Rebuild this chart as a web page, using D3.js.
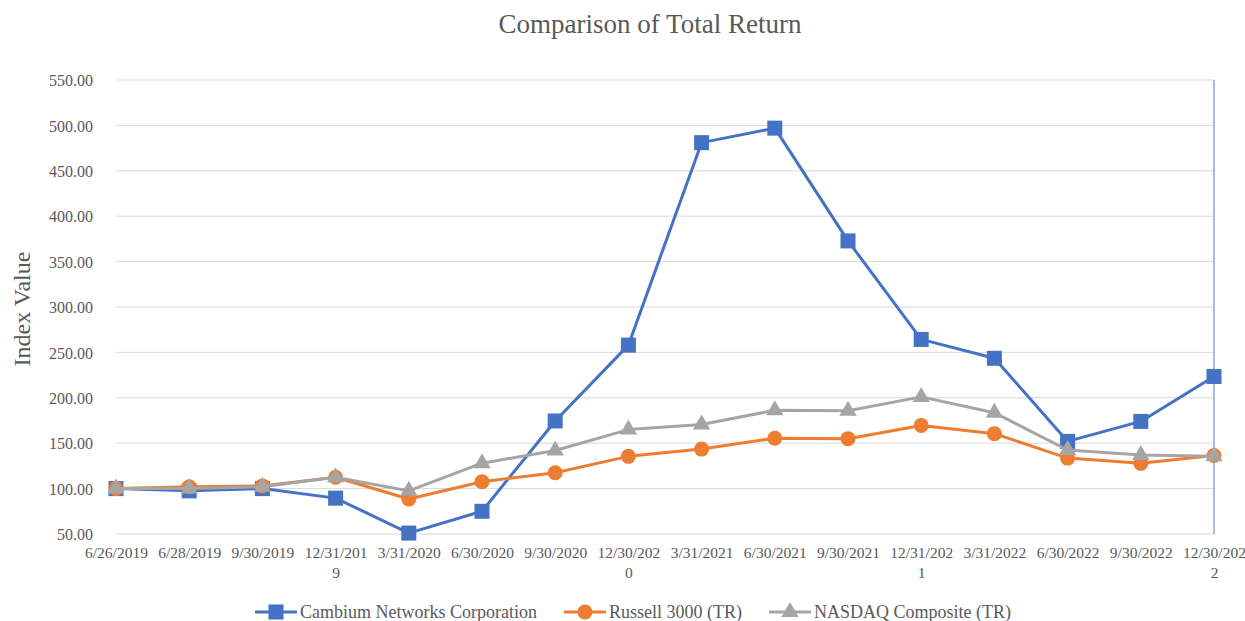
<!DOCTYPE html>
<html>
<head>
<meta charset="utf-8">
<script src="https://cdn.jsdelivr.net/npm/d3@7"></script>
<style>
  body { margin: 0; background: #fff; }
  text { font-family: "Liberation Serif", "Times New Roman", serif; fill: #595959; }
</style>
</head>
<body>
<div id="chart"></div>
<script>
const dates = ["6/26/2019", "6/28/2019", "9/30/2019", "12/31/2019", "3/31/2020", "6/30/2020", "9/30/2020",
    "12/30/2020", "3/31/2021", "6/30/2021", "9/30/2021", "12/31/2021", "3/31/2022", "6/30/2022", "9/30/2022", "12/30/2022"];

const cambium = [100, 97.5, 100, 89.5, 51, 75, 174.5, 258, 481, 497, 372.8, 264.3, 243.5, 152, 174, 223.5];
const russell = [100, 102, 103, 112.5, 88.5, 107.5, 117.5, 135.5, 143.5, 155.5, 155, 169.6, 160.5, 133.6, 127.8, 136.5];
const nasdaq = [100, 100, 102, 112.5, 97.5, 128, 142, 165, 170.5, 186.3, 185.7, 201, 183.5, 142.5, 137, 135.5];

const yTicks = [50, 100, 150, 200, 250, 300, 350, 400, 450, 500, 550];

const seriesNames = ["Cambium Networks Corporation", "Russell 3000 (TR)", "NASDAQ Composite (TR)"];
const seriesColors = ["#4472C4", "#ED7D31", "#A5A5A5"];
const seriesShapes = ["square", "circle", "triangle"];

const W = 1245, H = 621;
const margin = {top: 80, right: 31, bottom: 87, left: 116};
const width = W - margin.left - margin.right;
const height = H - margin.top - margin.bottom;

const svg = d3.select("#chart")
    .append("svg")
    .attr("width", W)
    .attr("height", H);

const g = svg.append("g")
    .attr("transform", `translate(${margin.left},${margin.top})`);

const x = d3.scalePoint().domain(dates).range([0, width]);
const y = d3.scaleLinear().domain([50, 550]).range([height, 0]);

// gridlines
g.append("g")
    .selectAll("line")
    .data(yTicks)
    .enter().append("line")
    .attr("x1", 0)
    .attr("x2", width)
    .attr("y1", d => y(d))
    .attr("y2", d => y(d))
    .style("stroke", "#D9D9D9")
    .style("stroke-width", 1);

// y axis labels
const yAxis = g.append("g")
    .call(d3.axisLeft(y).tickValues(yTicks).tickFormat(d3.format(".2f")).tickSize(0).tickPadding(23));
yAxis.select(".domain").remove();
yAxis.selectAll("text")
    .attr("dy", "0.35em")
    .style("font-size", "16px")
    .style("font-family", "'Liberation Serif', serif")
    .style("fill", "#595959");

// x axis labels (wrapped like the source)
const xAxis = g.append("g")
    .attr("transform", `translate(0,${height})`)
    .call(d3.axisBottom(x).tickSize(0).tickFormat(""));
xAxis.select(".domain").remove();
xAxis.selectAll(".tick").each(function (d) {
    const lines = d.length > 9 ? [d.slice(0, 9), d.slice(9)] : [d];
    const t = d3.select(this).append("text")
        .attr("text-anchor", "middle")
        .style("font-size", "15.5px");
    lines.forEach((l, i) => {
        t.append("tspan").attr("x", 0).attr("y", 24 + i * 20).text(l);
    });
});

// right vertical line
g.append("line")
    .attr("x1", width)
    .attr("x2", width)
    .attr("y1", y(550))
    .attr("y2", y(50))
    .style("stroke", "#8EA9DB")
    .style("stroke-width", 1.5);

const line = d3.line()
    .x((d, i) => x(dates[i]))
    .y(d => y(d));

function drawMarker(sel, shape, color) {
    if (shape === "square") {
        sel.append("rect")
            .attr("x", -7.5).attr("y", -7.5)
            .attr("width", 15).attr("height", 15)
            .style("fill", color);
    } else if (shape === "circle") {
        sel.append("circle")
            .attr("r", 7.5)
            .style("fill", color);
    } else {
        sel.append("path")
            .attr("d", d3.symbol().type(d3.symbolTriangle).size(130)())
            .style("fill", color);
    }
}

[cambium, russell, nasdaq].forEach((vals, k) => {
    g.append("path")
        .datum(vals)
        .attr("d", line)
        .style("fill", "none")
        .style("stroke", seriesColors[k])
        .style("stroke-width", 3)
        .style("stroke-linejoin", "round");

    g.append("g")
        .selectAll("g")
        .data(vals)
        .enter().append("g")
        .attr("transform", (d, i) => `translate(${x(dates[i])},${y(d)})`)
        .each(function () { drawMarker(d3.select(this), seriesShapes[k], seriesColors[k]); });
});

// title
svg.append("text")
    .attr("x", 650)
    .attr("y", 33)
    .attr("text-anchor", "middle")
    .style("font-size", "27px")
    .text("Comparison of Total Return");

// y axis title
svg.append("text")
    .attr("transform", "rotate(-90)")
    .attr("x", -309)
    .attr("y", 30)
    .attr("text-anchor", "middle")
    .style("font-size", "24px")
    .text("Index Value");

// legend, items laid out one after another
let legendPos = 255;
seriesNames.forEach((name, i) => {
    const item = svg.append("g")
        .attr("class", "legend")
        .attr("transform", `translate(${legendPos},612)`);

    item.append("line")
        .attr("x1", 0).attr("x2", 42)
        .style("stroke", seriesColors[i])
        .style("stroke-width", 3);

    drawMarker(item.append("g").attr("transform", "translate(21,0)"), seriesShapes[i], seriesColors[i]);

    const label = item.append("text")
        .attr("x", 45)
        .attr("y", 6)
        .style("font-size", "18px")
        .text(name);

    legendPos += 45 + label.node().getComputedTextLength() + 27;
});
</script>
</body>
</html>
